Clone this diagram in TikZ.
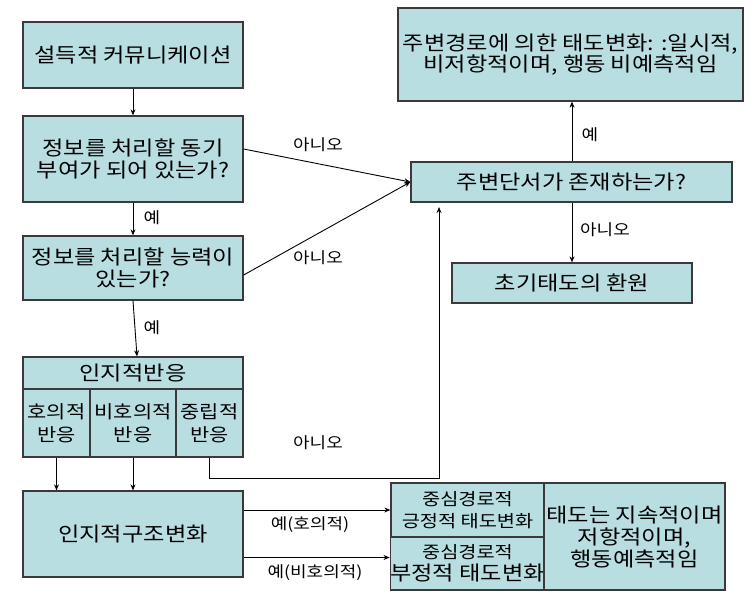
\documentclass[tikz,border=0pt]{standalone}
\usepackage{fontspec}
\setmainfont{Noto Sans CJK KR}[FakeStretch=1.16]
\usetikzlibrary{arrows.meta,calc}
\definecolor{boxfill}{HTML}{B9DEE2}
\definecolor{edge}{HTML}{3A3A3A}
\begin{document}
\begin{tikzpicture}[x=1pt,y=-1pt,
  box/.style={draw=edge,line width=1.3pt,fill=boxfill,inner sep=0pt,align=center,font=\fontsize{20}{22}\selectfont},
  sbox/.style={box,font=\fontsize{18}{23}\selectfont},
  fbox/.style={box,font=\fontsize{17}{22}\selectfont},
  arr/.style={draw=black,line width=0.9pt,-{Stealth[length=6pt,width=5pt]}},
  lab/.style={font=\fontsize{15.5}{18}\selectfont,inner sep=0pt}]
\fill[white] (0,0) rectangle (754,603);
\useasboundingbox (0,0) rectangle (754,603);
% left column
\node[box,minimum width=220pt,minimum height=66pt] (A) at (133,55) {설득적 커뮤니케이션};
\node[box,minimum width=220pt,minimum height=86pt] (B) at (133,159) {정보를 처리할 동기\\부여가 되어 있는가?};
\node[box,minimum width=220pt,minimum height=64pt] (C) at (133,268) {정보를 처리할 능력이\\있는가?};
\node[box,minimum width=220pt,minimum height=32pt] (Dh) at (133,373) {인지적반응};
\node[sbox,minimum width=67pt,minimum height=68pt] (D1) at (56.5,423) {호의적\\반응};
\node[sbox,minimum width=86pt,minimum height=68pt] (D2) at (133,423) {비호의적\\반응};
\node[sbox,minimum width=67pt,minimum height=68pt] (D3) at (209.5,423) {중립적\\반응};
\node[box,minimum width=220pt,minimum height=86pt] (E) at (133,534) {인지적구조변화};
% right column
\node[box,minimum width=345pt,minimum height=93pt,font=\fontsize{20}{20}\selectfont] (H) at (570.5,54.5) {주변경로에 의한 태도변화: :일시적,\\비저항적이며, 행동 비예측적임};
\node[box,minimum width=321pt,minimum height=40pt] (I) at (571.5,182) {주변단서가 존재하는가?};
\node[box,minimum width=240pt,minimum height=40pt] (J) at (572,283) {초기태도의 환원};
\node[fbox,minimum width=153pt,minimum height=54pt] (F1) at (467.5,510) {중심경로적\\긍정적 태도변화};
\node[fbox,minimum width=153pt,minimum height=53pt] (F2) at (467.5,563.5) {중심경로적\\{\fontsize{20}{22}\selectfont 부정적 태도변화}};
\node[box,minimum width=181pt,minimum height=107pt] (G) at (634.5,536.5) {태도는 지속적이며\\저항적이며,\\행동예측적임};
% connectors
\draw[arr] (A) -- (B);
\draw[arr] (B) -- (C);
\draw[arr] (C.south) -- ($(Dh.north)+(4,0)$);
\draw[arr] (D1.south) -- (D1.south |- E.north);
\draw[arr] (D2.south) -- (D2.south |- E.north);
\coordinate (bend) at (439,478);
\coordinate (Iin) at (439,207);
\draw[arr] (D3.south) |- (bend) -- (Iin);
\draw[arr] ($(B.east)+(0,-10)$) -- (I.west);
\draw[arr] ($(C.east)+(0,7)$) -- (I.west);
\draw[arr] (E.east |- F1.west) -- (F1.west);
\draw[arr] ($(E.east |- F2.west)+(0,-6)$) -- ($(F2.west)+(0,-6)$);
\draw[arr] (I.north -| 572,0) -- (H.south -| 572,0);
\draw[arr] (I.south -| 572,0) -- (J.north -| 572,0);
% labels
\node[lab] (l1) at (152,218) {예};
\node[lab] (l2) at (152,328) {예};
\node[lab] (l3) at (318,145) {아니오};
\node[lab] (l4) at (318,258) {아니오};
\node[lab] (l5) at (318,443) {아니오};
\node[lab] (l6) at (310,525) {예(호의적)};
\node[lab] (l7) at (315,573) {예(비호의적)};
\node[lab] (l8) at (590,135) {예};
\node[lab] (l9) at (605,230) {아니오};
\end{tikzpicture}
\end{document}
